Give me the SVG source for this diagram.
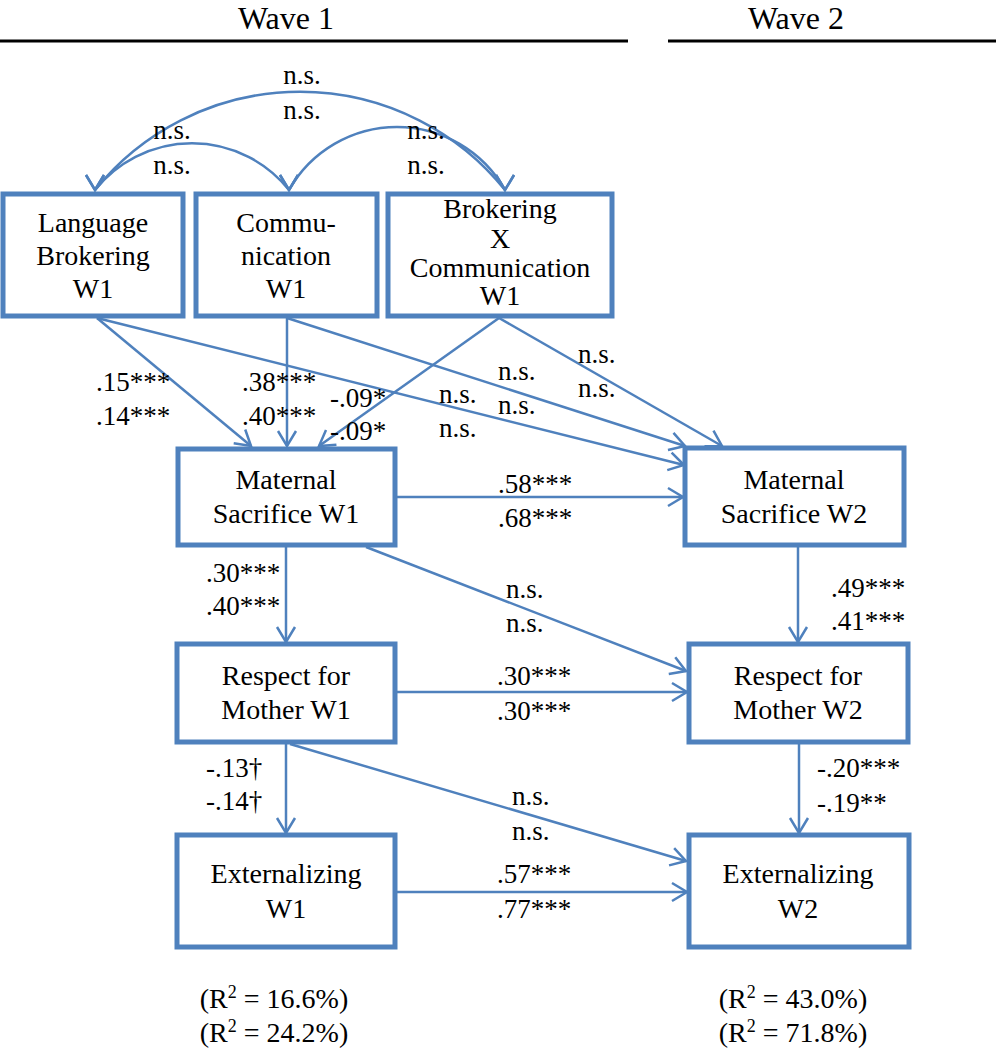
<svg xmlns="http://www.w3.org/2000/svg" width="996" height="1050" viewBox="0 0 996 1050">
<style>
text{font-family:'Liberation Serif','DejaVu Serif',serif;fill:#000}
.hdr{font-size:32px;text-anchor:middle}
.bx{font-size:28px;text-anchor:middle}
.lb{font-size:27px}
.lbm{font-size:27px;text-anchor:middle}
.box{fill:#fff;stroke:#4F81BD;stroke-width:5}
.con{fill:none;stroke:#4F81BD;stroke-width:2.5}
.rule{stroke:#000;stroke-width:3}
</style>
<defs>
<marker id="ah" viewBox="-18 -11 20 22" refX="0" refY="0" markerWidth="20" markerHeight="22" markerUnits="userSpaceOnUse" orient="auto">
<path d="M-15,-9 L0,0 L-15,9" fill="none" stroke="#4F81BD" stroke-width="2.5"/>
</marker>
<marker id="ahd" viewBox="-18 -11 20 22" refX="0" refY="0" markerWidth="20" markerHeight="22" markerUnits="userSpaceOnUse" orient="90">
<path d="M-15,-9 L0,0 L-15,9" fill="none" stroke="#4F81BD" stroke-width="2.5"/>
</marker>
</defs>
<rect width="996" height="1050" fill="#fff"/>
<g id="header">
<text class="hdr" x="286" y="29">Wave 1</text>
<text class="hdr" x="796" y="29">Wave 2</text>
<line class="rule" x1="0" y1="41" x2="628" y2="41"/>
<line class="rule" x1="668" y1="41" x2="996" y2="41"/>
</g>
<g id="connectors">
<path class="con" d="M95,190 A263,263 0 0 1 505,190" marker-start="url(#ahd)" marker-end="url(#ahd)"/>
<path class="con" d="M95,190 A124,124 0 0 1 289,190" marker-start="url(#ahd)" marker-end="url(#ahd)"/>
<path class="con" d="M289,190 A124,124 0 0 1 505,190" marker-start="url(#ahd)" marker-end="url(#ahd)"/>
<line class="con" x1="97" y1="318" x2="251" y2="446" marker-end="url(#ah)"/>
<line class="con" x1="97" y1="318" x2="684" y2="465" marker-end="url(#ah)"/>
<line class="con" x1="287" y1="318" x2="287" y2="446" marker-end="url(#ah)"/>
<line class="con" x1="287" y1="318" x2="685" y2="446" marker-end="url(#ah)"/>
<line class="con" x1="499" y1="318" x2="319" y2="446" marker-end="url(#ah)"/>
<line class="con" x1="499" y1="318" x2="722" y2="446" marker-end="url(#ah)"/>
<line class="con" x1="397" y1="497" x2="683" y2="497" marker-end="url(#ah)"/>
<line class="con" x1="286" y1="547" x2="286" y2="642" marker-end="url(#ah)"/>
<line class="con" x1="366" y1="547" x2="686" y2="671" marker-end="url(#ah)"/>
<line class="con" x1="798" y1="546" x2="798" y2="642" marker-end="url(#ah)"/>
<line class="con" x1="397" y1="692" x2="687" y2="692" marker-end="url(#ah)"/>
<line class="con" x1="286" y1="744" x2="286" y2="833" marker-end="url(#ah)"/>
<line class="con" x1="290" y1="744" x2="686" y2="861" marker-end="url(#ah)"/>
<line class="con" x1="799" y1="744" x2="799" y2="833" marker-end="url(#ah)"/>
<line class="con" x1="397" y1="892" x2="687" y2="892" marker-end="url(#ah)"/>
</g>
<g id="edge-labels">
<text class="lbm" x="302" y="84">n.s.</text>
<text class="lbm" x="302" y="119">n.s.</text>
<text class="lbm" x="172" y="139">n.s.</text>
<text class="lbm" x="172" y="174">n.s.</text>
<text class="lbm" x="426" y="139">n.s.</text>
<text class="lbm" x="426" y="174">n.s.</text>
<text class="lb" x="96" y="391">.15***</text>
<text class="lb" x="96" y="425">.14***</text>
<text class="lb" x="242" y="391">.38***</text>
<text class="lb" x="242" y="425">.40***</text>
<text class="lb" x="330" y="407">-.09*</text>
<text class="lb" x="330" y="440">-.09*</text>
<text class="lb" x="439" y="403">n.s.</text>
<text class="lb" x="439" y="437">n.s.</text>
<text class="lb" x="498" y="380">n.s.</text>
<text class="lb" x="498" y="414">n.s.</text>
<text class="lb" x="578" y="363">n.s.</text>
<text class="lb" x="578" y="397">n.s.</text>
<text class="lb" x="498" y="493">.58***</text>
<text class="lb" x="498" y="527">.68***</text>
<text class="lb" x="206" y="582">.30***</text>
<text class="lb" x="206" y="615">.40***</text>
<text class="lb" x="506" y="598">n.s.</text>
<text class="lb" x="506" y="632">n.s.</text>
<text class="lb" x="831" y="597">.49***</text>
<text class="lb" x="831" y="630">.41***</text>
<text class="lb" x="497" y="685">.30***</text>
<text class="lb" x="497" y="720">.30***</text>
<text class="lb" x="206" y="777">-.13†</text>
<text class="lb" x="206" y="810">-.14†</text>
<text class="lb" x="512" y="805">n.s.</text>
<text class="lb" x="512" y="840">n.s.</text>
<text class="lb" x="817" y="777">-.20***</text>
<text class="lb" x="817" y="812">-.19**</text>
<text class="lb" x="497" y="883">.57***</text>
<text class="lb" x="497" y="918">.77***</text>
</g>
<g id="lang-brokering-w1">
<rect class="box" x="3" y="194" width="180" height="122"/>
<text class="bx" x="93" y="232">Language</text>
<text class="bx" x="93" y="265">Brokering</text>
<text class="bx" x="93" y="298">W1</text>
</g>
<g id="communication-w1">
<rect class="box" x="196" y="194" width="181" height="122"/>
<text class="bx" x="286" y="232">Commu-</text>
<text class="bx" x="286" y="265">nication</text>
<text class="bx" x="286" y="298">W1</text>
</g>
<g id="brokering-x-communication-w1">
<rect class="box" x="388" y="194" width="224" height="122"/>
<text class="bx" x="500" y="218">Brokering</text>
<text class="bx" x="500" y="248">X</text>
<text class="bx" x="500" y="277">Communication</text>
<text class="bx" x="500" y="305">W1</text>
</g>
<g id="maternal-sacrifice-w1">
<rect class="box" x="178" y="449" width="217" height="96"/>
<text class="bx" x="286" y="489">Maternal</text>
<text class="bx" x="286" y="523">Sacrifice W1</text>
</g>
<g id="maternal-sacrifice-w2">
<rect class="box" x="685" y="448" width="219" height="97"/>
<text class="bx" x="794" y="489">Maternal</text>
<text class="bx" x="794" y="523">Sacrifice W2</text>
</g>
<g id="respect-mother-w1">
<rect class="box" x="177" y="644" width="218" height="98"/>
<text class="bx" x="286" y="685">Respect for</text>
<text class="bx" x="286" y="719">Mother W1</text>
</g>
<g id="respect-mother-w2">
<rect class="box" x="689" y="644" width="219" height="98"/>
<text class="bx" x="798" y="685">Respect for</text>
<text class="bx" x="798" y="719">Mother W2</text>
</g>
<g id="externalizing-w1">
<rect class="box" x="177" y="835" width="218" height="112"/>
<text class="bx" x="286" y="883">Externalizing</text>
<text class="bx" x="286" y="918">W1</text>
</g>
<g id="externalizing-w2">
<rect class="box" x="689" y="835" width="220" height="112"/>
<text class="bx" x="798" y="883">Externalizing</text>
<text class="bx" x="798" y="918">W2</text>
</g>
<g id="r-squared">
<text class="bx" x="274" y="1008">(R<tspan font-size="18" dy="-10">2</tspan><tspan dy="10"> = 16.6%)</tspan></text>
<text class="bx" x="274" y="1042">(R<tspan font-size="18" dy="-10">2</tspan><tspan dy="10"> = 24.2%)</tspan></text>
<text class="bx" x="793" y="1008">(R<tspan font-size="18" dy="-10">2</tspan><tspan dy="10"> = 43.0%)</tspan></text>
<text class="bx" x="793" y="1042">(R<tspan font-size="18" dy="-10">2</tspan><tspan dy="10"> = 71.8%)</tspan></text>
</g>
</svg>
